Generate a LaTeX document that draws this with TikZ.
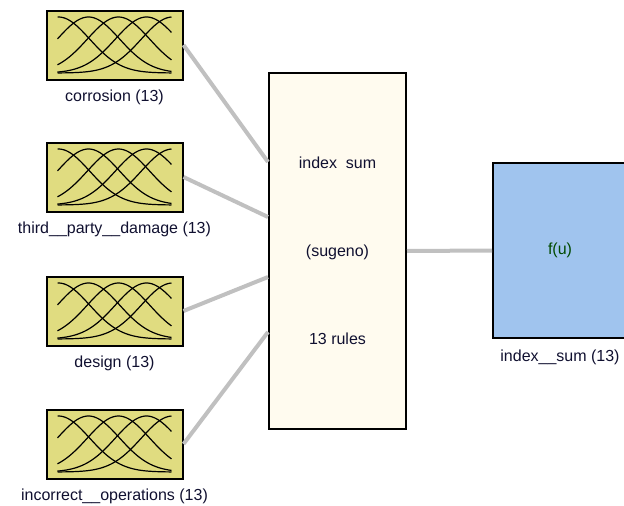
\documentclass[tikz,border=0pt]{standalone}
\usepackage{fontspec}
\setmainfont{Liberation Sans}
\usepackage{xcolor}
\usepackage{tikz}
\usetikzlibrary{positioning}
\definecolor{myinfill}{HTML}{E0DC80}
\definecolor{myrulefill}{HTML}{FFFBEF}
\definecolor{myoutfill}{HTML}{A0C4EE}
\definecolor{mylink}{HTML}{C0C0C0}
\definecolor{mytext}{HTML}{101030}
\definecolor{mygreentext}{HTML}{004A00}
\tikzset{
inputbox/.style={
draw=black,
fill=myinfill,
line width=2pt,
minimum width=136pt,
minimum height=69pt,
inner sep=0pt
},
rulebox/.style={
draw=black,
fill=myrulefill,
line width=2pt,
minimum width=137pt,
minimum height=356pt,
align=center,
text=mytext,
font=\fontsize{16}{88}\selectfont
},
outputbox/.style={
draw=black,
fill=myoutfill,
line width=2pt,
minimum width=134pt,
minimum height=175pt,
text=mygreentext,
font=\fontsize{16}{19}\selectfont
},
labelbox/.style={
font=\fontsize{16}{19}\selectfont,
text=mytext,
inner sep=0pt
},
link/.style={
draw=mylink,
line width=4pt
},
mfcurve/.style={
draw=black,
line width=1.2pt
}
}

\begin{document}
\begin{tikzpicture}[x=1pt, y=-1pt]
\clip (0,0) rectangle (624,506);

% inputs
\foreach \i/\ypos/\name in {1/45/corrosion (13), 2/177/third\_\_party\_\_damage (13),
                            3/311/design (13), 4/444/incorrect\_\_operations (13)} {
  \node[inputbox] (in\i) at (114.5,\ypos) {};
  \begin{scope}[shift={(in\i.center)}]
    \foreach \c in {-56,-26,4,32,58}
      \draw[mfcurve] plot[domain=-57:57, samples=60, smooth]
        (\x, {28-56*exp(-((\x-(\c))/44)*((\x-(\c))/44))});
  \end{scope}
  \node[labelbox, below=9pt of in\i] (lab\i) {\name};
}

% rule block and output
\node[rulebox] (mid) at (337.5,251) {index\ \ sum\\(sugeno)\\13 rules};
\node[outputbox] (out) at (560,250.5) {f(u)};
\node[labelbox, below=11pt of out] (labout) {index\_\_sum (13)};

\draw[link] (in1.east) -- ([yshift=89pt]mid.west);
\draw[link] (in2.east) -- ([yshift=34pt]mid.west);
\draw[link] (in3.east) -- ([yshift=-26pt]mid.west);
\draw[link] (in4.east) -- ([yshift=-81pt]mid.west);
\draw[link] (mid.east) -- (out.west);

\end{tikzpicture}
\end{document}
